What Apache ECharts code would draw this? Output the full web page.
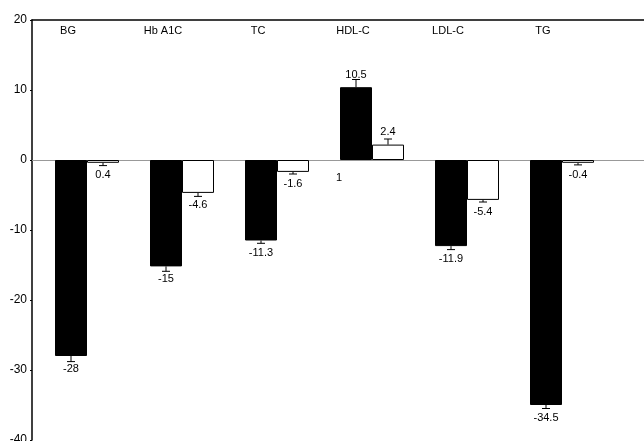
<!DOCTYPE html>
<html><head><meta charset="utf-8">
<script src="https://cdn.jsdelivr.net/npm/echarts@6/dist/echarts.min.js"></script>
<style>html,body{margin:0;padding:0;background:#fff}#c{width:644px;height:441px}</style>
</head><body><div id="c"></div>
<script>
const categories = ['BG', 'Hb A1C', 'TC', 'HDL-C', 'LDL-C', 'TG'];
const blackValues = [-28, -15.2, -11.5, 10.4, -12.3, -35];
const whiteValues = [-0.4, -4.7, -1.7, 2.2, -5.7, -0.4];
const blackErrors = [0.8, 0.7, 0.4, 1.1, 0.5, 0.5];
const whiteErrors = [0.4, 0.5, 0.3, 0.8, 0.3, 0.3];
const blackLabels = ['-28', '-15', '-11.3', '10.5', '-11.9', '-34.5'];
const whiteLabels = ['0.4', '-4.6', '-1.6', '2.4', '-5.4', '-0.4'];
const yTicks = { min: -40, max: 20, interval: 10 };
const strayNote = '1';

const FONT = 'Liberation Sans, Arial, sans-serif';
const BAR_W = 32;

function errRender(values, errors, labels, side) {
  return function (params, api) {
    const i = params.dataIndex;
    const v = values[i], e = errors[i];
    const base = api.coord([i, v]);
    const x = base[0] + side * BAR_W / 2;
    const end = api.coord([i, v + (v >= 0 ? e : -e)]);
    const dir = v >= 0 ? -1 : 1;
    return {
      type: 'group',
      children: [
        { type: 'line', shape: { x1: x, y1: base[1], x2: x, y2: end[1] }, style: { stroke: '#000', lineWidth: 1 } },
        { type: 'line', shape: { x1: x - 4, y1: end[1], x2: x + 4, y2: end[1] }, style: { stroke: '#000', lineWidth: 1 } },
        { type: 'text', x: x, y: base[1] + dir * 12.5, style: { text: labels[i], fill: '#000', font: '11px ' + FONT, align: 'center', verticalAlign: 'middle' } }
      ]
    };
  };
}

const chart = echarts.init(document.getElementById('c'), null, { renderer: 'canvas' });
chart.setOption({
  animation: false,
  backgroundColor: '#fff',
  grid: [
    { left: 39.5, top: 20, width: 570, height: 420, outerBoundsMode: 'none', containLabel: false },
    { left: 32, top: 20, right: 0, height: 420, outerBoundsMode: 'none', containLabel: false }
  ],
  xAxis: [
    { gridIndex: 0, type: 'category', data: categories, position: 'top',
      axisLine: { show: false }, axisTick: { show: false },
      axisLabel: { inside: true, margin: 5, color: '#000', fontSize: 11, fontFamily: FONT, padding: [0, 38, 0, 0] } },
    { gridIndex: 1, type: 'value', position: 'top', min: 0, max: 1,
      axisLine: { show: true, onZero: false, lineStyle: { color: '#000', width: 1.5 } },
      axisTick: { show: false }, axisLabel: { show: false }, splitLine: { show: false } },
    { gridIndex: 1, type: 'value', position: 'bottom', min: 0, max: 1,
      axisLine: { show: true, onZero: true, lineStyle: { color: '#999', width: 1 } },
      axisTick: { show: false }, axisLabel: { show: false }, splitLine: { show: false } }
  ],
  yAxis: [
    { gridIndex: 0, type: 'value', min: yTicks.min, max: yTicks.max, interval: yTicks.interval, show: false },
    { gridIndex: 1, type: 'value', min: yTicks.min, max: yTicks.max, interval: yTicks.interval,
      axisLine: { show: true, lineStyle: { color: '#000', width: 1.5 } },
      axisTick: { show: true, length: 2, lineStyle: { color: '#000' } },
      axisLabel: { color: '#000', fontSize: 12, fontFamily: FONT, margin: 5 },
      splitLine: { show: false } }
  ],
  series: [
    { type: 'bar', xAxisIndex: 0, yAxisIndex: 0, data: blackValues, barWidth: BAR_W, barGap: '0%',
      itemStyle: { color: '#000', borderColor: '#000', borderWidth: 1 } },
    { type: 'bar', xAxisIndex: 0, yAxisIndex: 0, data: whiteValues, barWidth: BAR_W, barGap: '0%',
      itemStyle: { color: '#fff', borderColor: '#000', borderWidth: 1 } },
    { type: 'custom', xAxisIndex: 0, yAxisIndex: 0, data: blackValues.map((v, i) => [i, v]),
      renderItem: errRender(blackValues, blackErrors, blackLabels, -1), z: 5 },
    { type: 'custom', xAxisIndex: 0, yAxisIndex: 0, data: whiteValues.map((v, i) => [i, v]),
      renderItem: errRender(whiteValues, whiteErrors, whiteLabels, 1), z: 5 }
  ],
  graphic: [
    { type: 'text', left: 336, top: 172, style: { text: strayNote, fill: '#000', font: '11px ' + FONT } }
  ]
});
</script></body></html>
